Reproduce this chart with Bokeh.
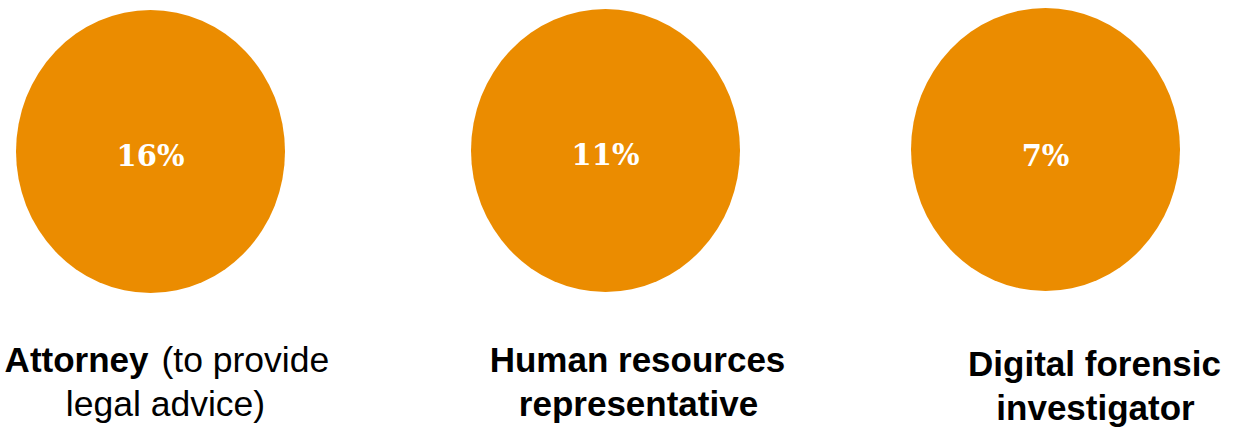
from bokeh.plotting import figure
from bokeh.models import ColumnDataSource, Range1d
from bokeh.core.properties import value
from bokeh.embed import file_html
from bokeh.resources import INLINE

# ---- data ----
values = [16, 11, 7]
label_line1_bold = ["Attorney", "Human resources", "Digital forensic"]
label_line1_regular = ["(to provide", "", ""]
label_line2 = ["legal advice)", "representative", "investigator"]
label_line2_bold = [False, True, True]

# ---- layout ----
W, H = 1236, 428
circle_x = [150, 605, 1045]
circle_y = [151, 150, 149]
circle_w = 269
circle_h = 283
label_x = [167, 637, 1094]
line2_x = [165, 638, 1095]
SHIFT = 13
line1_base = [372 - SHIFT, 372 - SHIFT, 376 - SHIFT]
line2_base = [416 - SHIFT, 416 - SHIFT, 420 - SHIFT]
pct_y = [155, 154, 155]
ORANGE = "#EB8C00"

p = figure(width=W, height=H, output_backend="svg", toolbar_location=None,
           x_range=Range1d(0, W), y_range=Range1d(H, 0), min_border=0)
p.axis.visible = False
p.grid.visible = False
p.outline_line_color = None
p.background_fill_color = "white"
p.border_fill_color = "white"

src = ColumnDataSource(dict(x=circle_x, y=circle_y,
                            pct=[f"{v}%" for v in values],
                            ty=pct_y))
p.ellipse(x="x", y="y", width=circle_w, height=circle_h, source=src,
          fill_color=ORANGE, line_color=None)
p.text(x="x", y="ty", text="pct", source=src, text_color="white",
       text_font=value("DejaVu Serif"), text_font_style="bold",
       text_font_size="29px", text_align="center", text_baseline="alphabetic")

# line 1 labels
l1x, l1y, l1t, l1a = [], [], [], []
r1x, r1y, r1t = [], [], []
for i in range(len(values)):
    if label_line1_regular[i]:
        l1x.append(148); l1a.append("right")
        r1x.append(161); r1y.append(line1_base[i]); r1t.append(label_line1_regular[i])
    else:
        l1x.append(label_x[i]); l1a.append("center")
    l1y.append(line1_base[i]); l1t.append(label_line1_bold[i])

p.text(x="x", y="y", text="t", text_align="a",
       source=ColumnDataSource(dict(x=l1x, y=l1y, t=l1t, a=l1a)),
       text_font=value("Liberation Sans"), text_font_style="bold",
       text_font_size="35px", text_baseline="alphabetic", text_color="black")
p.text(x="x", y="y", text="t",
       source=ColumnDataSource(dict(x=r1x, y=r1y, t=r1t)),
       text_font=value("Liberation Sans"), text_font_style="normal",
       text_font_size="35.5px", text_align="left", text_baseline="alphabetic",
       text_color="black")

# line 2 labels
p.text(x="x", y="y", text="t",
       source=ColumnDataSource(dict(
           x=[line2_x[i] for i in range(3) if label_line2_bold[i]],
           y=[line2_base[i] for i in range(3) if label_line2_bold[i]],
           t=[label_line2[i] for i in range(3) if label_line2_bold[i]])),
       text_font=value("Liberation Sans"), text_font_style="bold",
       text_font_size="35px", text_align="center", text_baseline="alphabetic",
       text_color="black")
p.text(x="x", y="y", text="t",
       source=ColumnDataSource(dict(
           x=[line2_x[i] for i in range(3) if not label_line2_bold[i]],
           y=[line2_base[i] for i in range(3) if not label_line2_bold[i]],
           t=[label_line2[i] for i in range(3) if not label_line2_bold[i]])),
       text_font=value("Liberation Sans"), text_font_style="normal",
       text_font_size="35.5px", text_align="center", text_baseline="alphabetic",
       text_color="black")

open("out.html", "w").write(file_html(p, INLINE))
